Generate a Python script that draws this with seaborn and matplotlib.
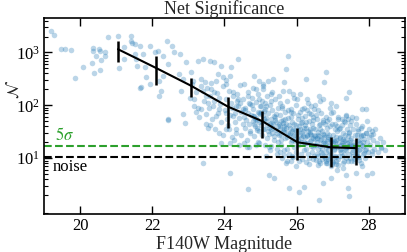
import matplotlib
matplotlib.use("Agg")
import matplotlib.pyplot as plt
import numpy as np
import pandas as pd
import seaborn as sns

# ---- binned running median (black line with error bars) ----
bin_mag = [21.05, 22.1, 23.07, 24.1, 25.05, 26.02, 26.95, 27.65]
bin_sig = [1150, 510, 235, 94, 50, 20, 16.0, 15.5]
bin_lo = [650, 245, 145, 38, 24.5, 9.2, 6.8, 7.4]
bin_hi = [1650, 840, 330, 142, 77, 37, 25, 24]

# ---- threshold levels ----
sig_5sigma = 17.0
sig_noise = 10.5

# ---- individual sources (magnitude, net significance) ----
bright_pts = [
    (19.19, 2500), (19.28, 2180), (19.47, 1170), (19.58, 1170), (19.74, 1120), (20.09, 535),
    (19.86, 330), (20.32, 640), (20.38, 410), (20.56, 470), (20.35, 1200), (20.36, 1080),
    (20.52, 1170), (20.54, 1080), (20.44, 845), (20.58, 720), (20.68, 1000), (20.69, 845),
    (20.78, 1950), (21.06, 2040), (21.07, 500), (21.21, 1290), (21.22, 750), (21.40, 2040),
    (21.42, 1630), (21.43, 1500), (21.56, 750), (21.65, 210), (21.51, 1450), (21.66, 1350),
    (21.93, 1350), (21.74, 935), (21.52, 935), (21.57, 560), (21.79, 520), (21.84, 340),
    (21.70, 220), (21.93, 250), (22.07, 1000), (22.16, 1080), (22.30, 870), (22.41, 1630),
    (22.56, 1350), (22.59, 1000), (22.43, 605), (22.31, 360), (22.25, 190), (22.20, 150),
    (22.18, 290), (22.76, 935), (22.74, 390), (22.85, 310), (22.80, 190), (22.94, 650),
    (23.08, 420), (23.12, 290), (23.26, 700), (23.40, 750), (23.59, 700), (23.72, 650),
    (23.45, 270), (23.36, 235), (23.49, 150), (23.63, 200), (23.82, 390), (23.77, 290),
    (23.95, 340), (24.14, 360), (24.05, 250), (24.37, 750), (23.91, 560), (24.18, 520),
    (24.23, 175), (24.37, 130), (24.32, 97), (24.51, 84), (24.64, 150), (24.69, 112),
    (24.83, 360), (24.97, 290), (24.88, 200), (25.06, 200), (24.78, 62), (25.01, 97),
    (25.10, 78), (23.36, 84), (23.49, 68), (22.85, 68), (22.43, 54), (23.17, 130),
    (23.26, 90), (23.68, 97), (23.86, 84), (23.77, 62), (24.05, 72), (23.40, 190),
    (25.75, 870), (25.70, 485), (25.66, 270), (26.81, 420), (26.76, 270), (26.26, 310),
    (27.45, 175), (27.36, 140), (25.34, 310), (25.20, 290), (25.07, 250), (25.29, 160),
    (25.61, 190), (25.89, 160), (26.30, 130), (26.62, 150), (26.72, 130), (26.95, 112),
    (27.09, 97), (27.36, 62), (27.41, 54), (27.82, 84), (27.91, 84), (27.64, 58), (27.50, 50),
]

low_pts = [
    (22.43, 52), (22.90, 47), (23.40, 8.1), (24.14, 5.2), (24.66, 2.6), (23.59, 43),
    (23.86, 30), (23.54, 38), (24.05, 35), (24.32, 30), (23.91, 19.4), (24.14, 19.4),
    (24.55, 19.4), (24.41, 18), (24.69, 16.6), (24.97, 19.4), (25.24, 4.9), (25.38, 4.2),
    (25.80, 2.7), (26.07, 2.3), (26.21, 2.9), (26.62, 1.6), (26.72, 3.4), (27.41, 2.7),
    (27.45, 1.9), (26.95, 4.2), (27.36, 4.9), (27.64, 5.2), (27.96, 4.9), (27.13, 6),
    (27.27, 6.5), (25.98, 7), (26.35, 7.6), (26.53, 9.3), (25.84, 8.7), (25.70, 8.1),
    (26.81, 8.1), (27.09, 7.6), (27.50, 8.7), (27.73, 9.3), (27.82, 7), (27.91, 30),
    (28.0, 35), (27.77, 28), (27.68, 12.5), (27.86, 12.5), (28.10, 13.5), (28.10, 32),
    (28.12, 29), (28.33, 15.6), (28.10, 5.2),
]

cloud_23 = [
    (23.05, 140), (23.15, 95), (23.22, 180), (23.3, 60), (23.42, 120), (23.48, 45),
    (23.1, 250), (23.35, 320), (23.2, 75), (23.52, 210), (23.58, 88), (23.6, 150),
    (23.65, 55), (23.7, 120), (23.75, 35), (23.8, 170), (23.83, 70), (23.88, 105),
    (23.9, 48), (23.95, 230), (23.97, 28), (23.62, 260), (23.72, 180), (23.85, 140),
    (23.55, 110),
]

cloud_24 = [
    (24.02, 80), (24.05, 130), (24.08, 55), (24.1, 42), (24.12, 190), (24.15, 66),
    (24.18, 110), (24.2, 25), (24.22, 88), (24.25, 150), (24.28, 48), (24.3, 70),
    (24.33, 36), (24.35, 120), (24.38, 95), (24.4, 58), (24.42, 240), (24.45, 28),
    (24.47, 75), (24.5, 45), (24.03, 300), (24.27, 22), (24.36, 160), (24.44, 110),
    (24.13, 35), (24.24, 62), (24.52, 130), (24.54, 60), (24.56, 38), (24.58, 90),
    (24.6, 52), (24.62, 22), (24.64, 180), (24.66, 72), (24.68, 44), (24.7, 105),
    (24.72, 30), (24.74, 65), (24.76, 140), (24.78, 50), (24.8, 85), (24.82, 26),
    (24.84, 40), (24.86, 115), (24.88, 58), (24.9, 34), (24.92, 75), (24.94, 20),
    (24.96, 48), (24.98, 95), (24.55, 250), (24.63, 16), (24.71, 33), (24.79, 210),
    (24.87, 18), (24.93, 160), (24.99, 68), (24.57, 80), (24.85, 55),
]

cloud_25 = [
    (25.01, 42), (25.03, 120), (25.05, 28), (25.07, 65), (25.09, 36), (25.11, 85),
    (25.13, 18), (25.15, 50), (25.17, 150), (25.19, 24), (25.21, 70), (25.23, 38),
    (25.25, 100), (25.27, 14), (25.29, 55), (25.31, 30), (25.33, 80), (25.35, 45),
    (25.37, 22), (25.39, 130), (25.41, 60), (25.43, 34), (25.45, 12), (25.47, 90),
    (25.49, 40), (25.02, 75), (25.08, 230), (25.14, 58), (25.2, 32), (25.26, 44),
    (25.32, 180), (25.38, 26), (25.44, 68), (25.48, 20), (25.12, 110), (25.24, 16),
    (25.36, 62), (25.42, 48), (25.16, 11), (25.28, 35), (25.51, 28), (25.53, 65),
    (25.55, 40), (25.57, 18), (25.59, 95), (25.61, 33), (25.63, 52), (25.65, 14),
    (25.67, 75), (25.69, 24), (25.71, 44), (25.73, 120), (25.75, 30), (25.77, 58),
    (25.79, 12), (25.81, 38), (25.83, 85), (25.85, 20), (25.87, 48), (25.89, 26),
    (25.91, 70), (25.93, 16), (25.95, 34), (25.97, 100), (25.99, 42), (25.52, 150),
    (25.56, 22), (25.6, 10), (25.64, 36), (25.68, 55), (25.72, 15), (25.76, 80),
    (25.8, 27), (25.84, 60), (25.88, 11), (25.92, 45), (25.96, 21), (25.54, 110),
    (25.66, 40), (25.74, 9), (25.86, 32), (25.94, 140), (25.58, 50), (25.78, 190),
    (25.98, 13),
]

cloud_26 = [
    (26.01, 30), (26.03, 55), (26.05, 18), (26.07, 40), (26.09, 75), (26.11, 24),
    (26.13, 12), (26.15, 48), (26.17, 33), (26.19, 90), (26.21, 20), (26.23, 62),
    (26.25, 15), (26.27, 38), (26.29, 27), (26.31, 110), (26.33, 50), (26.35, 10),
    (26.37, 35), (26.39, 22), (26.41, 68), (26.43, 44), (26.45, 16), (26.47, 28),
    (26.49, 85), (26.02, 130), (26.06, 9), (26.1, 36), (26.14, 58), (26.18, 26),
    (26.22, 42), (26.26, 8.5), (26.3, 19), (26.34, 72), (26.38, 31), (26.42, 13),
    (26.46, 52), (26.5, 23), (26.04, 22), (26.12, 46), (26.2, 14), (26.28, 80),
    (26.36, 29), (26.44, 37), (26.48, 11), (26.08, 160), (26.24, 25), (26.4, 17),
    (26.51, 35), (26.53, 18), (26.55, 55), (26.57, 12), (26.59, 28), (26.61, 42),
    (26.63, 9), (26.65, 22), (26.67, 70), (26.69, 15), (26.71, 32), (26.73, 48),
    (26.75, 11), (26.77, 25), (26.79, 19), (26.81, 60), (26.83, 8), (26.85, 38),
    (26.87, 14), (26.89, 27), (26.91, 90), (26.93, 10), (26.95, 21), (26.97, 45),
    (26.99, 16), (26.52, 100), (26.56, 24), (26.6, 7.5), (26.64, 36), (26.68, 13),
    (26.72, 52), (26.76, 20), (26.8, 8.8), (26.84, 30), (26.88, 17), (26.92, 40),
    (26.96, 12), (26.54, 65), (26.62, 26), (26.7, 9.5), (26.78, 44), (26.86, 23),
    (26.94, 7), (26.58, 15), (26.66, 120), (26.74, 29), (26.82, 13), (26.9, 55),
    (26.98, 9),
]

cloud_27 = [
    (27.01, 28), (27.03, 14), (27.05, 45), (27.07, 20), (27.09, 9), (27.11, 33),
    (27.13, 16), (27.15, 60), (27.17, 11), (27.19, 24), (27.21, 38), (27.23, 13),
    (27.25, 19), (27.27, 8), (27.29, 30), (27.31, 50), (27.33, 15), (27.35, 22),
    (27.37, 10), (27.39, 35), (27.41, 17), (27.43, 26), (27.45, 12), (27.47, 42),
    (27.49, 18), (27.02, 75), (27.06, 11), (27.1, 25), (27.14, 7.5), (27.18, 36),
    (27.22, 18), (27.26, 55), (27.3, 12), (27.34, 27), (27.38, 16), (27.42, 9),
    (27.46, 31), (27.04, 21), (27.12, 40), (27.2, 14), (27.28, 23), (27.36, 65),
    (27.44, 20), (27.48, 10), (27.51, 24), (27.53, 13), (27.55, 35), (27.57, 18),
    (27.59, 9), (27.61, 28), (27.63, 15), (27.65, 45), (27.67, 11), (27.69, 21),
    (27.71, 32), (27.73, 14), (27.75, 19), (27.77, 8), (27.79, 26), (27.81, 40),
    (27.83, 12), (27.85, 17), (27.87, 23), (27.89, 10), (27.91, 30), (27.93, 15),
    (27.95, 20), (27.97, 13), (27.99, 25), (27.54, 60), (27.6, 16), (27.66, 27),
    (27.72, 10.5), (27.78, 38), (27.84, 20), (27.9, 14), (27.96, 50),
]

cloud_28 = [
    (28.02, 18), (28.05, 28), (28.08, 12), (28.12, 22), (28.15, 15), (28.18, 35),
    (28.22, 19), (28.26, 13), (28.3, 24), (28.35, 16), (28.4, 20), (28.45, 14),
]

core_pts = [
    (24.81, 45), (24.83, 62), (24.89, 38), (24.91, 52), (24.95, 70), (24.97, 33),
    (25.04, 48), (25.06, 36), (25.1, 55), (25.18, 42), (25.22, 29), (25.3, 47),
    (25.34, 38), (25.4, 52), (25.46, 30), (25.5, 44), (25.54, 35), (25.58, 27),
    (25.62, 46), (25.66, 31), (25.7, 38), (25.74, 25), (25.78, 42), (25.82, 30),
    (25.86, 22), (25.9, 36), (25.94, 28), (26.0, 24), (26.04, 34), (26.08, 27),
    (26.12, 20), (26.16, 30), (26.2, 38), (26.24, 19), (26.28, 26), (26.32, 33),
    (26.36, 21), (26.4, 28), (26.44, 24), (26.48, 18), (26.52, 26), (26.56, 20),
    (26.6, 31), (26.64, 17), (26.68, 23), (26.72, 19), (26.76, 27), (26.8, 16),
    (26.84, 21), (26.88, 25), (26.92, 18), (26.96, 23), (27.0, 19), (27.04, 15),
    (27.08, 22), (27.12, 17), (27.16, 20), (27.2, 25), (27.24, 15), (27.28, 18),
    (27.32, 21), (27.36, 14), (27.4, 19), (27.44, 16), (27.48, 22), (27.52, 17),
    (27.56, 14), (27.6, 20), (27.64, 12), (27.68, 17), (27.72, 22), (27.76, 15),
    (27.8, 18), (26.58, 11), (26.7, 12), (26.86, 9.5), (26.9, 11.5), (27.0, 8.5),
    (27.05, 10.5), (26.78, 10), (27.15, 9.5), (27.25, 11), (26.46, 9.8), (26.66, 8.2),
    (26.98, 7.8), (27.32, 8.8), (27.55, 11), (27.62, 9.8), (25.65, 11.5), (25.9, 10.5),
    (26.15, 9.8), (26.32, 12), (25.45, 15), (25.3, 17), (25.55, 13), (26.05, 65),
    (26.25, 48), (26.45, 60), (26.65, 45), (26.85, 50), (27.05, 35), (27.25, 42),
    (27.45, 30), (25.85, 75), (25.6, 90), (25.3, 120), (25.15, 95), (24.95, 130),
    (24.75, 100), (26.15, 85), (26.4, 95), (26.6, 80), (26.95, 70), (27.15, 55),
    (27.35, 48), (27.7, 35), (27.85, 28),
]

all_pts = (bright_pts + low_pts + cloud_23 + cloud_24 + cloud_25 + cloud_26
           + cloud_27 + cloud_28 + core_pts)
src = pd.DataFrame(all_pts, columns=["mag", "sig"])
bins = pd.DataFrame({"mag": bin_mag, "sig": bin_sig})

# ---- style ----
sns.set_style("ticks")
plt.rcParams["font.family"] = ["Liberation Serif", "DejaVu Serif"]
plt.rcParams["mathtext.fontset"] = "stix"
plt.rcParams["font.size"] = 12

fig = plt.figure(figsize=(4.07, 2.52), dpi=100)
ax = fig.add_axes([0.108, 0.151, 0.887, 0.778])

sns.scatterplot(data=src, x="mag", y="sig", ax=ax, s=16, color="#1f77b4",
                alpha=0.3, linewidth=0, zorder=1)
ax.axhline(sig_5sigma, color="#2ca02c", ls="--", lw=1.5, zorder=2)
ax.axhline(sig_noise, color="black", ls="--", lw=1.5, zorder=2)
sns.lineplot(data=bins, x="mag", y="sig", ax=ax, color="black", lw=1.5, zorder=3)
yerr = [np.array(bin_sig) - np.array(bin_lo), np.array(bin_hi) - np.array(bin_sig)]
ax.errorbar(bin_mag, bin_sig, yerr=yerr, fmt="none", ecolor="black",
            elinewidth=1.8, capsize=0, zorder=3)

ax.set_yscale("log")
ax.set_xlim(19, 29)
ax.set_ylim(0.88, 4500)
ax.set_yticks([10, 100, 1000])
ax.set_xticks([20, 22, 24, 26, 28])

ax.text(19.3, sig_5sigma * 1.07, r"$5\sigma$", color="#2ca02c", fontsize=12,
        ha="left", va="bottom")
ax.text(19.25, sig_noise * 0.93, "noise", color="black", fontsize=12,
        ha="left", va="top")

ax.set_title("Net Significance", fontsize=13, pad=2)
ax.set_xlabel("F140W Magnitude", fontsize=13, labelpad=1)
ax.set_ylabel(r"$\mathcal{N}$", fontsize=11.5)
ax.yaxis.set_label_coords(-0.058, 0.635)

ax.tick_params(which="both", direction="in", top=True, right=True, colors="black",
               labelsize=12, pad=3)
ax.tick_params(which="major", length=6, width=1)
ax.tick_params(which="minor", length=3, width=0.8)
for sp in ax.spines.values():
    sp.set_linewidth(1.2)
    sp.set_color("black")

fig.savefig("out.png", dpi=100)
